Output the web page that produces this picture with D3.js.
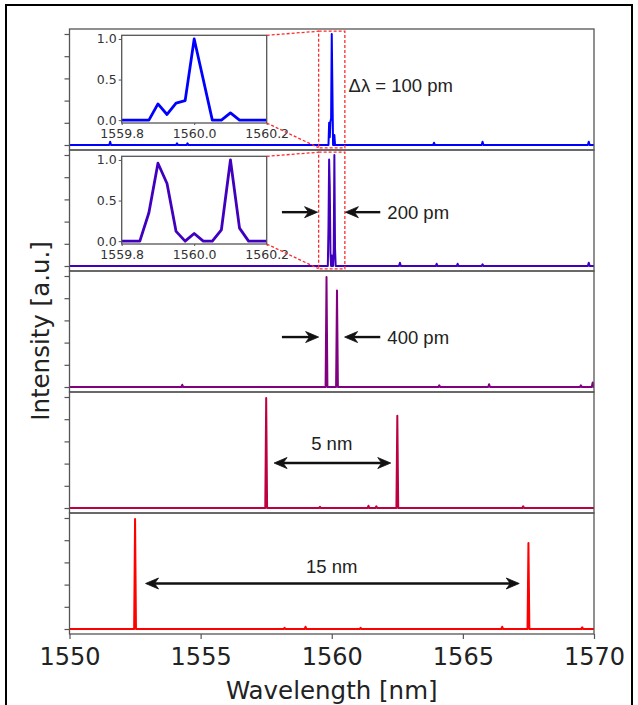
<!DOCTYPE html>
<html><head><meta charset="utf-8">
<script src="https://cdn.jsdelivr.net/npm/d3@7"></script>
<style>body{margin:0;background:#fff} svg{display:block}</style>
</head><body><svg id="c" width="638" height="705"></svg>
<script>
// ---------------- data ----------------
const xTicks = [1550, 1555, 1560, 1565, 1570];
const yTicks = [0, 0.2, 0.4, 0.6, 0.8, 1.0];
const insetXTicks = [1559.8, 1560.0, 1560.2];
const insetYTicks = [0, 0.5, 1.0];
const panelColors = ["#0000ff", "#4000bf", "#800080", "#bf0040", "#ff0000"];

// zoomed (inset) spectra, also the core of panels 1 and 2
const insetX  = [1559.8, 1559.825, 1559.85, 1559.875, 1559.9, 1559.925, 1559.95, 1559.975, 1560.0,
                 1560.025, 1560.05, 1560.075, 1560.1, 1560.125, 1560.15, 1560.175, 1560.2];
const inset1Y = [0, 0, 0, 0, 0.2, 0.07, 0.21, 0.24, 1.0, 0.5, 0, 0, 0.09, 0, 0, 0, 0];
const inset2Y = [0, 0, 0, 0.35, 0.96, 0.71, 0.12, 0, 0.095, 0, 0, 0.14, 1.0, 0.16, 0, 0, 0];

// main lasing peaks [wavelength nm, intensity]
const peaks3 = [[1559.8, 0.99], [1560.2, 0.87]];
const peaks4 = [[1557.5, 0.99], [1562.5, 0.83]];
const peaks5 = [[1552.5, 0.99], [1567.5, 0.775]];

// small background spikes
const small1 = [[1551.55, 0.03], [1554.1, 0.015], [1554.5, 0.015], [1563.9, 0.02], [1565.75, 0.03], [1569.8, 0.03]];
const small2 = [[1562.6, 0.03], [1564.0, 0.02], [1564.8, 0.02], [1565.75, 0.015], [1569.8, 0.03]];
const small3 = [[1554.3, 0.02], [1564.1, 0.015], [1566.0, 0.025], [1569.5, 0.015], [1569.95, 0.04]];
const small4 = [[1559.55, 0.01], [1561.4, 0.02], [1561.7, 0.015], [1567.3, 0.015]];
const small5 = [[1558.2, 0.01], [1559.0, 0.02], [1561.1, 0.01], [1566.5, 0.02], [1569.55, 0.015]];

// annotation labels
const labels = ["\u0394\u03bb = 100 pm", "200 pm", "400 pm", "5 nm", "15 nm"];

// ---------------- layout ----------------
const svg = d3.select("#c");
const L = 69.5, R = 594, TOP = 29, PH = 121;
const x = d3.scaleLinear().domain([1550, 1570]).range([L, R]);
const spine = "#555";

svg.append("rect").attr("x", 6).attr("y", 5).attr("width", 626).attr("height", 720)
  .attr("fill", "none").attr("stroke", "#000").attr("stroke-width", 2);

function buildSeries(core, spikes, peaks) {
  const pts = [[1550, 0], [1570, 0]];
  const hw = 0.035;
  spikes.concat(peaks).forEach(([w, h]) => {
    pts.push([Math.max(1550, w - hw), 0], [w, h], [Math.min(1570, w + hw), 0]);
  });
  if (core) core.forEach(p => pts.push(p));
  pts.sort((a, b) => a[0] - b[0]);
  return pts;
}
const core1 = insetX.map((v, i) => [v, inset1Y[i]]);
const core2 = insetX.map((v, i) => [v, inset2Y[i]]);
const series = [
  buildSeries(core1, small1, []),
  buildSeries(core2, small2, []),
  buildSeries(null, small3, peaks3),
  buildSeries(null, small4, peaks4),
  buildSeries(null, small5, peaks5)
];

const defs = svg.append("defs");
function arrowHead(g, tx, ty, dir) { // dir: +1 points right, -1 points left
  const Lh = 13, W = 5.5, n = 9;
  g.append("path")
    .attr("d", `M${tx},${ty} L${tx - dir * Lh},${ty - W} L${tx - dir * n},${ty} L${tx - dir * Lh},${ty + W} Z`)
    .attr("fill", "#111").attr("stroke", "#111").attr("stroke-width", 0.8).attr("stroke-linejoin", "miter");
}
function arrow(g, x1, x2, yy, both) { // tip at x2, tail at x1
  const dir = x2 > x1 ? 1 : -1;
  g.append("line").attr("x1", both ? x1 + dir * 9 : x1).attr("x2", x2 - dir * 9)
    .attr("y1", yy).attr("y2", yy).attr("stroke", "#111").attr("stroke-width", 2.4);
  arrowHead(g, x2, yy, dir);
  if (both) arrowHead(g, x1, yy, -dir);
}

const ys = [];
for (let i = 0; i < 5; i++) {
  const top = TOP + i * PH, bot = top + PH;
  const y = d3.scaleLinear().domain([-0.045, 1.045]).range([bot, top]);
  ys.push(y);
  const g = svg.append("g");
  const cid = "clip" + i;
  defs.append("clipPath").attr("id", cid).append("rect")
    .attr("x", L).attr("y", top).attr("width", R - L).attr("height", PH);

  const line = d3.line().x(d => x(d[0])).y(d => y(d[1]));
  g.append("path").datum(series[i]).attr("clip-path", `url(#${cid})`)
    .attr("d", line).attr("fill", "none").attr("stroke", panelColors[i])
    .attr("stroke-width", 2).attr("stroke-linejoin", "round");

  g.append("rect").attr("x", L).attr("y", top).attr("width", R - L).attr("height", PH)
    .attr("fill", "none").attr("stroke", spine).attr("stroke-width", 1.3);

  const ya = g.append("g").attr("transform", `translate(${L},0)`)
    .call(d3.axisLeft(y).tickValues(yTicks).tickFormat("").tickSize(5).tickSizeOuter(0));
  ya.select(".domain").remove();
  ya.selectAll("line").attr("stroke", spine).attr("stroke-width", 1.2);

  if (i === 4) {
    const xa = g.append("g").attr("transform", `translate(0,${bot})`)
      .call(d3.axisBottom(x).tickValues(xTicks).tickFormat(d3.format("d")).tickSize(5).tickPadding(9).tickSizeOuter(0));
    xa.select(".domain").remove();
    xa.selectAll("line").attr("stroke", spine).attr("stroke-width", 1.2);
    xa.selectAll("text").attr("font-family", "DejaVu Sans").attr("font-size", 24).attr("fill", "#222");
  }
}

// ---------------- insets ----------------
const insetData = [inset1Y, inset2Y];
for (let k = 0; k < 2; k++) {
  const top = TOP + k * PH;
  const ix0 = 121.7, ix1 = 266.7, iy0 = top + 6.3, iy1 = top + 94;
  const xi = d3.scaleLinear().domain([1559.8, 1560.2]).range([ix0, ix1]);
  const yi = d3.scaleLinear().domain([-0.035, 1.045]).range([iy1, iy0]);
  const g = svg.append("g");
  g.append("rect").attr("x", ix0).attr("y", iy0).attr("width", ix1 - ix0).attr("height", iy1 - iy0)
    .attr("fill", "#fff");
  g.append("path").datum(insetX.map((v, j) => [v, insetData[k][j]]))
    .attr("d", d3.line().x(d => xi(d[0])).y(d => yi(d[1])))
    .attr("fill", "none").attr("stroke", panelColors[k]).attr("stroke-width", 2.8).attr("stroke-linejoin", "round");
  g.append("rect").attr("x", ix0).attr("y", iy0).attr("width", ix1 - ix0).attr("height", iy1 - iy0)
    .attr("fill", "none").attr("stroke", spine).attr("stroke-width", 1.3);
  const ax = g.append("g").attr("transform", `translate(${ix0},0)`)
    .call(d3.axisLeft(yi).tickValues(insetYTicks).tickFormat(d3.format(".1f")).tickSize(3).tickPadding(2));
  ax.select(".domain").remove();
  const bx = g.append("g").attr("transform", `translate(0,${iy1})`)
    .call(d3.axisBottom(xi).tickValues(insetXTicks).tickFormat(d3.format(".1f")).tickSize(2).tickPadding(4.5));
  bx.select(".domain").remove();
  [ax, bx].forEach(a => {
    a.selectAll("line").attr("stroke", spine);
    a.selectAll("text").attr("font-family", "DejaVu Sans").attr("font-size", 12.5).attr("fill", "#333");
  });

  // zoom indicator box + connectors
  const y = ys[k];
  const bx0 = x(1559.5), bx1 = x(1560.5), by0 = y(1.025), by1 = y(-0.025);
  const red = { stroke: "#ff2a2a", "stroke-width": 1.3, "stroke-dasharray": "3,2", fill: "none" };
  const els = [
    g.append("rect").attr("x", bx0).attr("y", by0).attr("width", bx1 - bx0).attr("height", by1 - by0),
    g.append("line").attr("x1", ix1).attr("y1", iy0).attr("x2", bx0).attr("y2", by0),
    g.append("line").attr("x1", ix1).attr("y1", iy1).attr("x2", bx0).attr("y2", by1)
  ];
  els.forEach(e => Object.entries(red).forEach(([a, v]) => e.attr(a, v)));
}

// ---------------- annotations ----------------
const ann = svg.append("g");
const fontA = "Liberation Sans, Arial, sans-serif";
ann.append("text").attr("x", x(1560.64)).attr("y", ys[0](0.54)).attr("dy", "0.35em")
  .attr("font-family", fontA).attr("font-size", 18.5).attr("fill", "#222").text(labels[0]);

// panel 2
arrow(ann, x(1558.1), x(1559.46), ys[1](0.485), false);
arrow(ann, x(1561.85), x(1560.52), ys[1](0.485), false);
ann.append("text").attr("x", x(1562.12)).attr("y", ys[1](0.485)).attr("dy", "0.35em")
  .attr("font-family", fontA).attr("font-size", 18.5).attr("fill", "#222").text(labels[1]);
// panel 3
arrow(ann, x(1558.1), x(1559.5), ys[2](0.45), false);
arrow(ann, x(1561.85), x(1560.49), ys[2](0.45), false);
ann.append("text").attr("x", x(1562.12)).attr("y", ys[2](0.45)).attr("dy", "0.35em")
  .attr("font-family", fontA).attr("font-size", 18.5).attr("fill", "#222").text(labels[2]);
// panel 4
arrow(ann, x(1557.8), x(1562.25), ys[3](0.405), true);
ann.append("text").attr("x", x(1560)).attr("y", ys[3](0.585)).attr("dy", "0.35em").attr("text-anchor", "middle")
  .attr("font-family", fontA).attr("font-size", 18.5).attr("fill", "#222").text(labels[3]);
// panel 5
arrow(ann, x(1552.9), x(1567.15), ys[4](0.41), true);
ann.append("text").attr("x", x(1560)).attr("y", ys[4](0.56)).attr("dy", "0.35em").attr("text-anchor", "middle")
  .attr("font-family", fontA).attr("font-size", 18.5).attr("fill", "#222").text(labels[4]);

// axis titles
svg.append("text").attr("x", x(1560)).attr("y", 690).attr("dy", "0.35em").attr("text-anchor", "middle")
  .attr("font-family", "DejaVu Sans").attr("font-size", 24.5).attr("fill", "#222").text("Wavelength [nm]");
svg.append("text").attr("transform", "translate(40,331) rotate(-90)").attr("dy", "0.35em").attr("text-anchor", "middle")
  .attr("font-family", "DejaVu Sans").attr("font-size", 24.5).attr("fill", "#222").text("Intensity [a.u.]");
</script></body></html>
